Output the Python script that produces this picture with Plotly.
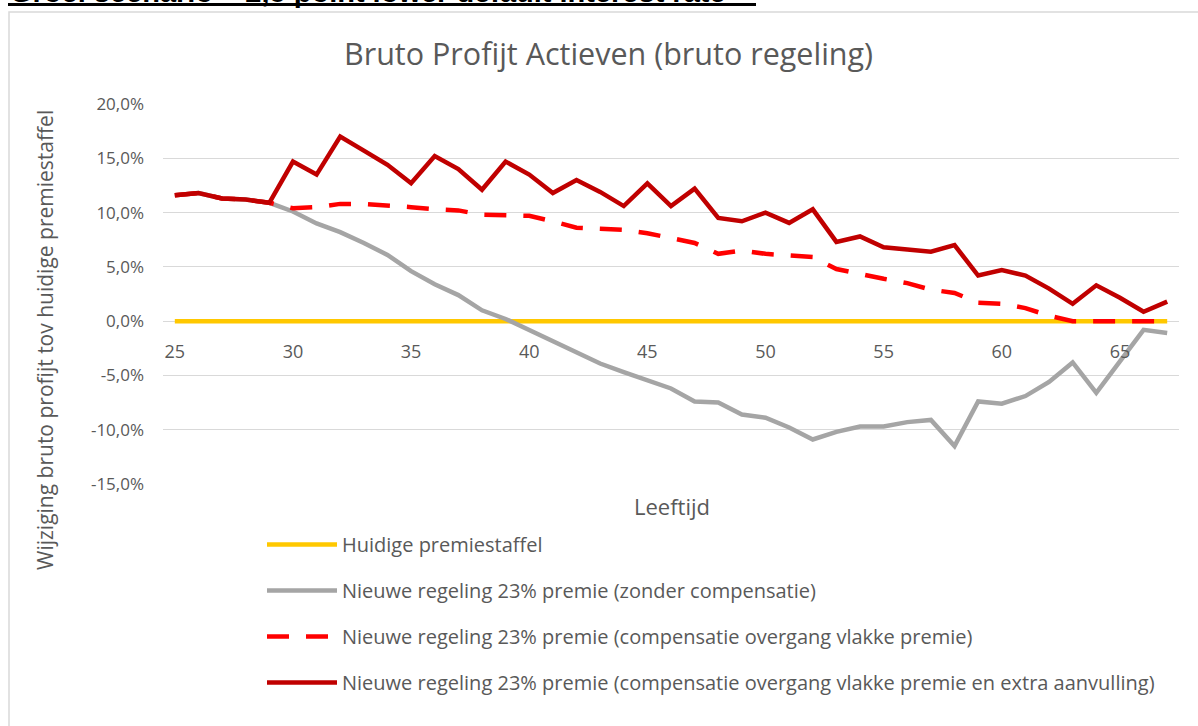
import plotly.graph_objects as go

# ---------------- data ----------------
ages = [25, 26, 27, 28, 29, 30, 31, 32, 33, 34, 35, 36, 37, 38, 39, 40, 41, 42, 43, 44, 45,
        46, 47, 48, 49, 50, 51, 52, 53, 54, 55, 56, 57, 58, 59, 60, 61, 62, 63, 64, 65, 66, 67]

huidige = [0.0, 0.0, 0.0, 0.0, 0.0, 0.0, 0.0, 0.0, 0.0, 0.0, 0.0, 0.0, 0.0, 0.0, 0.0,
           0.0, 0.0, 0.0, 0.0, 0.0, 0.0, 0.0, 0.0, 0.0, 0.0, 0.0, 0.0, 0.0, 0.0, 0.0,
           0.0, 0.0, 0.0, 0.0, 0.0, 0.0, 0.0, 0.0, 0.0, 0.0, 0.0, 0.0, 0.0]

zonder_comp = [11.6, 11.8, 11.3, 11.2, 10.9, 10.1, 9.0, 8.2, 7.2, 6.1, 4.6, 3.4, 2.4, 1.0,
               0.2, -0.8, -1.8, -2.9, -3.9, -4.7, -5.5, -6.2, -7.4, -7.5, -8.6, -8.9, -9.8,
               -10.9, -10.2, -9.7, -9.7, -9.3, -9.1, -11.5, -7.4, -7.6, -6.9, -5.6, -3.8,
               -6.6, -3.7, -0.8, -1.1]

comp_vlak = [11.6, 11.8, 11.3, 11.2, 10.9, 10.4, 10.5, 10.8, 10.8, 10.7, 10.5, 10.3, 10.2,
             9.8, 9.7, 9.7, 9.2, 8.6, 8.5, 8.4, 8.1, 7.6, 7.2, 6.2, 6.5, 6.2, 6.1, 5.9, 4.8,
             4.3, 3.9, 3.5, 2.9, 2.6, 1.7, 1.6, 1.2, 0.5, 0.0, 0.0, 0.0, 0.0, 0.0]

comp_extra = [11.6, 11.8, 11.3, 11.2, 10.9, 14.7, 13.5, 17.0, 15.7, 14.4, 12.7, 15.2, 14.0,
              12.1, 14.7, 13.5, 11.8, 13.0, 11.9, 10.6, 12.7, 10.6, 12.2, 9.5, 9.2, 10.0,
              9.05, 10.3, 7.3, 7.8, 6.8, 6.6, 6.4, 7.0, 4.2, 4.7, 4.2, 3.0, 1.6, 3.3, 2.15,
              0.86, 1.8]

series_names = [
    "Huidige premiestaffel",
    "Nieuwe regeling 23% premie (zonder compensatie)",
    "Nieuwe regeling 23% premie (compensatie overgang vlakke premie)",
    "Nieuwe regeling 23% premie (compensatie overgang vlakke premie en extra aanvulling)",
]
x_tick_vals = [25, 30, 35, 40, 45, 50, 55, 60, 65]
y_tick_vals = [-15, -10, -5, 0, 5, 10, 15, 20]
y_tick_text = ["-15,0%", "-10,0%", "-5,0%", "0,0%", "5,0%", "10,0%", "15,0%", "20,0%"]

title_text = "Bruto Profijt Actieven (bruto regeling)"
y_title = "Wijziging bruto profijt tov huidige premiestaffel"
x_title = "Leeftijd"
header_text = "Groei scenario – 2,5 point lower default interest rate"

# ---------------- layout geometry ----------------
W, H = 1198, 726
L, R, T, B = 163, 19, 104, 242
PW, PH = W - L - R, H - T - B


def px(xp):
    return (xp - L) / PW


def py(yp):
    return (H - B - yp) / PH


FONT = "'Open Sans', Lato, sans-serif"
GREY_TXT = "#595959"

fig = go.Figure()
styles = [
    dict(color="#FFC800", width=4.5),
    dict(color="#A5A5A5", width=4.5),
    dict(color="#FF0000", width=4.5, dash="22px,17px"),
    dict(color="#C00000", width=4.5),
]
for i, (name, vals) in enumerate(zip(series_names, [huidige, zonder_comp, comp_vlak, comp_extra])):
    fig.add_trace(go.Scatter(x=ages, y=vals, mode="lines", name=name,
                             legendgroup=f"g{i}", line=styles[i]))

fig.update_layout(
    width=W, height=H,
    margin=dict(l=L, r=R, t=T, b=B, autoexpand=False),
    paper_bgcolor="white", plot_bgcolor="white",
    font=dict(family=FONT, color=GREY_TXT, size=17),
    showlegend=True,
    legend=dict(x=px(262), y=py(525), xanchor="left", yanchor="top",
                font=dict(size=20, color=GREY_TXT, family=FONT),
                tracegroupgap=17, bgcolor="rgba(0,0,0,0)", itemwidth=70),
    xaxis=dict(range=[24.5, 67.5], tickvals=x_tick_vals, showgrid=False,
               zeroline=False, showline=False, ticks="",
               anchor="free", position=15 / 35, ticklabelstandoff=18,
               tickfont=dict(size=18, color=GREY_TXT, family=FONT)),
    yaxis=dict(range=[-15, 20], tickvals=y_tick_vals, ticktext=y_tick_text,
               showgrid=True, gridcolor="#D9D9D9", gridwidth=1.3,
               zeroline=False, showline=False, ticks="", ticklabelstandoff=18,
               tickfont=dict(size=17, color=GREY_TXT, family=FONT)),
)

annotations = [
    dict(text=title_text, x=px(608), y=py(53), xref="paper", yref="paper",
         xanchor="center", yanchor="middle",
         showarrow=False, font=dict(size=30.5, color=GREY_TXT, family=FONT)),
    dict(text=x_title, x=px(672), y=py(506), xref="paper", yref="paper",
         xanchor="center", yanchor="middle",
         showarrow=False, font=dict(size=22, color=GREY_TXT, family=FONT)),
    dict(text=y_title, x=px(45), y=py(340), xref="paper", yref="paper",
         xanchor="center", yanchor="middle",
         textangle=-90, showarrow=False, font=dict(size=21, color=GREY_TXT, family=FONT)),
    dict(text="<b>" + header_text + "</b>", x=px(8), y=py(10), xref="paper", yref="paper",
         xanchor="left", yanchor="bottom", showarrow=False,
         font=dict(size=29, color="black", family="Liberation Sans, Arial, sans-serif")),
]
fig.update_layout(annotations=annotations)

shapes = [
    # outer chart frame
    dict(type="rect", xref="paper", yref="paper", x0=px(9), x1=px(1210), y0=py(740), y1=py(12),
         line=dict(color="#D9D9D9", width=1.5), fillcolor="rgba(0,0,0,0)", layer="below"),
    # underline of the clipped header
    dict(type="line", xref="paper", yref="paper", x0=px(8), x1=px(756), y0=py(4.5), y1=py(4.5),
         line=dict(color="black", width=3)),
]
fig.update_layout(shapes=shapes)

fig.write_html("out.html", post_script="document.body.style.margin='0';",
               config={"displayModeBar": False})
